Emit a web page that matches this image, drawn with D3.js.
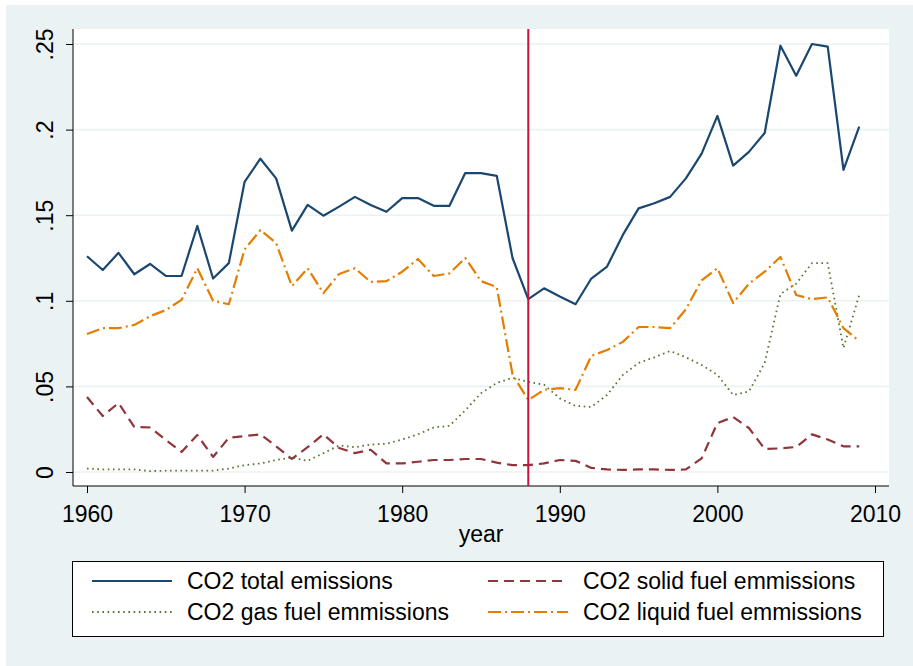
<!DOCTYPE html>
<html>
<head>
<meta charset="utf-8">
<script src="https://d3js.org/d3.v7.min.js"></script>
<style>
  body { margin: 0; background: #fff; }
  svg { display: block; font-family: "Liberation Sans", Arial, sans-serif; }
  .axis path, .axis line { stroke: #000; }
  .axis text { fill: #000; font-size: 23px; }
</style>
</head>
<body>
<script>
// data
const years = d3.range(1960, 2010);

const total = [0.126, 0.118, 0.128, 0.1155, 0.1215, 0.1145, 0.1145, 0.1437, 0.113, 0.122,
  0.1695, 0.183, 0.1715, 0.141, 0.156, 0.1497, 0.155, 0.1607, 0.156, 0.152,
  0.160, 0.160, 0.1555, 0.1555, 0.1746, 0.1746, 0.173, 0.125, 0.101, 0.1073,
  0.1025, 0.098, 0.113, 0.120, 0.1385, 0.154, 0.157, 0.1607, 0.1715, 0.186,
  0.208, 0.179, 0.187, 0.198, 0.249, 0.2315, 0.250, 0.2485, 0.1765, 0.2017];

const solid = [0.0438, 0.0327, 0.0403, 0.0263, 0.026, 0.0187, 0.0117, 0.0216, 0.0088, 0.020,
  0.021, 0.022, 0.015, 0.0076, 0.0145, 0.022, 0.014, 0.011, 0.013, 0.005,
  0.005, 0.006, 0.007, 0.007, 0.0076, 0.0076, 0.0055, 0.004, 0.004, 0.005,
  0.007, 0.0065, 0.0024, 0.0015, 0.0012, 0.0015, 0.0015, 0.0012, 0.0015, 0.008,
  0.0286, 0.0321, 0.0257, 0.0134, 0.0138, 0.0146, 0.022, 0.019, 0.015, 0.015];

const gas = [0.002, 0.0015, 0.0015, 0.0015, 0.0005, 0.0008, 0.0008, 0.0008, 0.0008, 0.002,
  0.004, 0.005, 0.007, 0.0085, 0.0065, 0.011, 0.0155, 0.0145, 0.016, 0.0165,
  0.019, 0.022, 0.026, 0.027, 0.036, 0.046, 0.052, 0.055, 0.0526, 0.051,
  0.043, 0.0386, 0.038, 0.045, 0.0567, 0.0637, 0.067, 0.0707, 0.067, 0.0625,
  0.0567, 0.045, 0.047, 0.0637, 0.104, 0.110, 0.122, 0.122, 0.0724, 0.1034];

const liquid = [0.0806, 0.084, 0.084, 0.0859, 0.091, 0.0946, 0.1005, 0.119, 0.100, 0.098,
  0.130, 0.1413, 0.1337, 0.1086, 0.119, 0.1045, 0.1157, 0.119, 0.111, 0.1115,
  0.117, 0.1244, 0.1145, 0.116, 0.125, 0.1115, 0.108, 0.057, 0.042, 0.048,
  0.049, 0.048, 0.0678, 0.0713, 0.076, 0.0847, 0.0847, 0.084, 0.095, 0.112,
  0.119, 0.0987, 0.110, 0.117, 0.1256, 0.1034, 0.101, 0.102, 0.084, 0.0765];

const yTicks = [0, 0.05, 0.1, 0.15, 0.2, 0.25];
const yTickLabels = ["0", ".05", ".1", ".15", ".2", ".25"];
const xTicks = [1960, 1970, 1980, 1990, 2000, 2010];
const markYear = 1988;

const seriesNames = ["CO2 total emissions", "CO2 solid fuel emmissions",
  "CO2 gas fuel emmissions", "CO2 liquid fuel emmissions"];

var width = 913, height = 666;
var plot = {left: 73, right: 889, top: 29, bottom: 486};

const series = [
  {name: seriesNames[0], values: total, color: "#1a476f", dash: null, w: 2.2},
  {name: seriesNames[1], values: solid, color: "#90353b", dash: "10,6", w: 2.2},
  {name: seriesNames[2], values: gas, color: "#55752f", dash: "1.6,3.6", w: 1.8},
  {name: seriesNames[3], values: liquid, color: "#e37e00", dash: "13,4,2,4", w: 2.2}
];

const svg = d3.select("body").append("svg")
    .attr("width", width)
    .attr("height", height)

// graph region
svg.append("rect")
    .attr("x", 6).attr("y", 5)
    .attr("width", width - 6).attr("height", height - 5)
    .attr("fill", "#eaf2f3")

svg.append("rect")
    .attr("x", plot.left).attr("y", plot.top)
    .attr("width", plot.right - plot.left).attr("height", plot.bottom - plot.top)
    .attr("fill", "#fff")

const x = d3.scaleLinear()
    .domain([1960, 2010])
    .range([87, 875])

const y = d3.scaleLinear()
    .domain([0, 0.25])
    .range([472, 44])

// gridlines
svg.append("g")
  .selectAll("line")
  .data(yTicks)
  .enter().append("line")
    .attr("x1", plot.left).attr("x2", plot.right)
    .attr("y1", d => y(d)).attr("y2", d => y(d))
    .attr("stroke", "#eaf2f3")
    .attr("stroke-width", 1.6)

// axes
const xAxis = d3.axisBottom(x)
    .tickValues(xTicks)
    .tickFormat(d3.format("d"))
    .tickSize(7)
    .tickSizeOuter(0)

const gx = svg.append("g")
    .attr("class", "axis")
    .attr("transform", `translate(0,${plot.bottom})`)
    .call(xAxis)
gx.select(".domain").attr("d", `M${plot.left},0H${plot.right}`)
gx.selectAll("text").attr("y", 36).attr("dy", null)

const yAxis = d3.axisLeft(y)
    .tickValues(yTicks)
    .tickFormat((d, i) => yTickLabels[i])
    .tickSize(7)
    .tickSizeOuter(0)

const gy = svg.append("g")
    .attr("class", "axis")
    .attr("transform", `translate(${plot.left},0)`)
    .call(yAxis)
gy.select(".domain").attr("d", `M0,${plot.top}V${plot.bottom}`)
gy.selectAll("text")
    .attr("x", null).attr("dy", null)
    .attr("transform", "translate(-20,0) rotate(-90)")
    .attr("text-anchor", "middle")
    .attr("y", 0)

svg.append("text")
    .attr("x", 481).attr("y", 542)
    .attr("text-anchor", "middle")
    .style("font-size", "23px")
    .text("year")

// lines
const line = d3.line()
    .x((d, i) => x(years[i]))
    .y(d => y(d))

svg.append("g")
  .selectAll("path")
  .data(series)
  .enter().append("path")
    .attr("d", d => line(d.values))
    .attr("fill", "none")
    .attr("stroke", d => d.color)
    .attr("stroke-width", d => d.w)
    .attr("stroke-dasharray", d => d.dash)
    .attr("stroke-linejoin", "round")

// reference line at 1988
svg.append("line")
    .attr("x1", x(markYear)).attr("x2", x(markYear))
    .attr("y1", plot.top).attr("y2", plot.bottom)
    .attr("stroke", "#c8133b")
    .attr("stroke-width", 2)

// legend
const legend = svg.append("g")

legend.append("rect")
    .attr("x", 72.5).attr("y", 561.5)
    .attr("width", 811).attr("height", 75)
    .attr("fill", "#fff")
    .attr("stroke", "#000")
    .attr("stroke-width", 1)

const legendPos = [[92, 581], [488, 581], [92, 612], [488, 612]]

const items = legend.selectAll(".item")
  .data(series)
  .enter().append("g")
    .attr("transform", (d, i) => `translate(${legendPos[i][0]},${legendPos[i][1]})`)

items.append("line")
    .attr("x1", 0).attr("x2", 80)
    .attr("stroke", d => d.color)
    .attr("stroke-width", d => d.w)
    .attr("stroke-dasharray", d => d.dash)

items.append("text")
    .attr("x", 95)
    .attr("dy", "0.36em")
    .style("font-size", "23px")
    .text(d => d.name)
</script>
</body>
</html>
